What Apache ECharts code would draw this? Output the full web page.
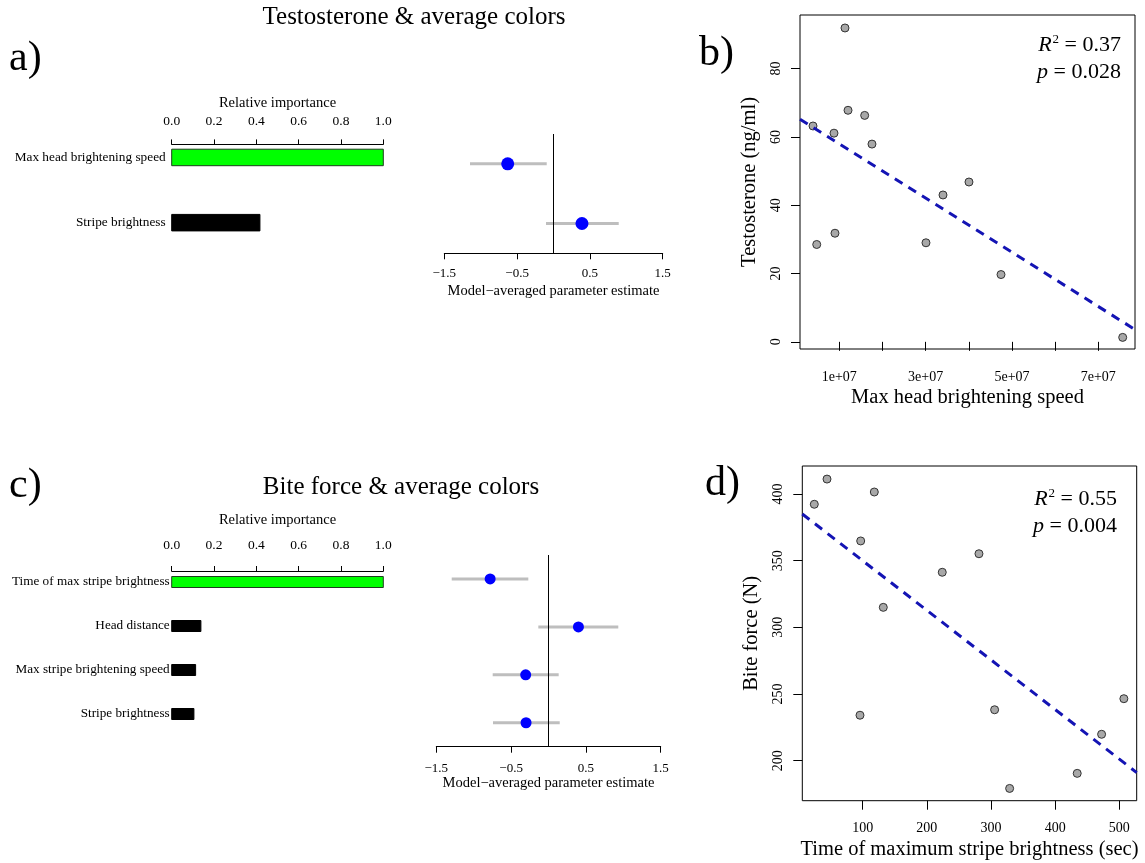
<!DOCTYPE html>
<html>
<head>
<meta charset="utf-8">
<script src="https://cdn.jsdelivr.net/npm/echarts@6/dist/echarts.min.js"></script>
<style>
html,body{margin:0;padding:0;background:#fff;}
#chart{width:1145px;height:863px;}
</style>
</head>
<body>
<div id="chart"></div>
<script>
// ---------- DATA ----------
// Panel a: relative importance + model-averaged estimates (rows listed bottom to top)
const aCategories = ['Stripe brightness', 'Max head brightening speed'];
const aImportance = [0.417, 1.0];
const aEstimate = [0.391, -0.629];
const aLower = [-0.103, -1.147];
const aUpper = [0.896, -0.093];

// Panel c (rows listed bottom to top)
const cCategories = ['Stripe brightness', 'Max stripe brightening speed', 'Head distance', 'Time of max stripe brightness'];
const cImportance = [0.105, 0.113, 0.138, 1.0];
const cEstimate = [-0.300, -0.305, 0.400, -0.780];
const cLower = [-0.742, -0.746, -0.136, -1.294];
const cUpper = [0.150, 0.136, 0.933, -0.270];

// Panel b: testosterone vs max head brightening speed
const bSpeed = [3.91e6, 4.77e6, 8.77e6, 9.00e6, 1.132e7, 1.202e7, 1.588e7, 1.757e7, 3.008e7, 3.402e7, 4.004e7, 4.746e7, 7.565e7];
const bTestosterone = [63.2, 28.5, 61.1, 31.8, 91.9, 67.8, 66.3, 57.9, 29.0, 43.0, 46.8, 19.7, 1.3];
const bFitLine = [[896000, 65.2], [78500000, 3.6]];

// Panel d: bite force vs time of maximum stripe brightness
const dTime = [24.6, 44.4, 96.9, 95.8, 118.1, 132.1, 224.0, 281.2, 305.6, 329.0, 434.3, 472.3, 507.0];
const dBite = [392.3, 411.2, 364.8, 234.1, 401.5, 315.0, 341.3, 355.2, 238.2, 179.2, 190.5, 219.8, 246.5];
const dFitLine = [[5.9, 385.0], [527, 191.1]];

// Tick values and labels
const impTicks = [0, 0.2, 0.4, 0.6, 0.8, 1.0];
const impTickLabels = ['0.0', '0.2', '0.4', '0.6', '0.8', '1.0'];
const estTicks = [-1.5, -0.5, 0.5, 1.5];
const estTickLabels = ['\u22121.5', '\u22120.5', '0.5', '1.5'];
const bXTicks = [1e7, 2e7, 3e7, 4e7, 5e7, 6e7, 7e7];
const bXLabelValues = [1e7, 3e7, 5e7, 7e7];
const bXTickLabels = ['1e+07', '3e+07', '5e+07', '7e+07'];
const bYTicks = [0, 20, 40, 60, 80];
const bYTickLabels = ['0', '20', '40', '60', '80'];
const dXTicks = [100, 200, 300, 400, 500];
const dXTickLabels = ['100', '200', '300', '400', '500'];
const dYTicks = [200, 250, 300, 350, 400];
const dYTickLabels = ['200', '250', '300', '350', '400'];

// ---------- STYLE / LAYOUT ----------
const FONT = '"Liberation Serif", "Times New Roman", serif';
const BLACK = '#000';

function lookup(vals, labels) {
  return function (v) {
    for (let i = 0; i < vals.length; i++) if (Math.abs(vals[i] - v) < 1e-6 * Math.max(1, Math.abs(v))) return labels[i];
    return '';
  };
}

function grid(left, top, width, height, box) {
  return { left, top, width, height, containLabel: false, outerBoundsMode: 'none',
    show: !!box, borderColor: BLACK, borderWidth: 1, backgroundColor: 'transparent' };
}

function impAxis(gi, nameGap, margin) {
  return {
    type: 'value', gridIndex: gi, position: 'top', min: 0, max: 1,
    name: 'Relative importance', nameLocation: 'middle', nameGap, nameMoveOverlap: false,
    nameTextStyle: { fontFamily: FONT, fontSize: 14.5, color: BLACK },
    axisLine: { show: true, lineStyle: { color: BLACK, width: 1 } },
    axisTick: { show: true, inside: false, length: 5, customValues: impTicks, lineStyle: { color: BLACK, width: 1 } },
    axisLabel: { show: true, customValues: impTicks, formatter: lookup(impTicks, impTickLabels), margin,
      fontFamily: FONT, fontSize: 13.5, color: BLACK },
    splitLine: { show: false }
  };
}

function estAxis(gi, nameGap, margin) {
  return {
    type: 'value', gridIndex: gi, position: 'bottom', min: -1.5, max: 1.5,
    name: 'Model\u2212averaged parameter estimate', nameLocation: 'middle', nameGap, nameMoveOverlap: false,
    nameTextStyle: { fontFamily: FONT, fontSize: 14.5, color: BLACK },
    axisLine: { show: true, lineStyle: { color: BLACK, width: 1 } },
    axisTick: { show: true, inside: false, length: 6, customValues: estTicks, lineStyle: { color: BLACK, width: 1 } },
    axisLabel: { show: true, customValues: estTicks, formatter: lookup(estTicks, estTickLabels), margin,
      fontFamily: FONT, fontSize: 13, color: BLACK },
    splitLine: { show: false }
  };
}

function hiddenY(gi, min, max) {
  return { type: 'value', gridIndex: gi, min, max, show: false, splitLine: { show: false } };
}

function scatterX(gi, min, max, ticks, labelVals, labels, name) {
  return {
    type: 'value', gridIndex: gi, min, max,
    name, nameLocation: 'middle', nameGap: 38, nameMoveOverlap: false,
    nameTextStyle: { fontFamily: FONT, fontSize: 20.5, color: BLACK },
    axisLine: { show: false },
    axisTick: { show: true, inside: false, length: 9, customValues: ticks, lineStyle: { color: BLACK, width: 1 } },
    axisLabel: { show: true, customValues: labelVals, formatter: lookup(labelVals, labels), margin: 21,
      fontFamily: FONT, fontSize: 14, color: BLACK },
    splitLine: { show: false }
  };
}

function scatterY(gi, min, max, ticks, labels, name) {
  return {
    type: 'value', gridIndex: gi, min, max,
    name, nameLocation: 'middle', nameGap: 40, nameRotate: 90, nameMoveOverlap: false,
    nameTextStyle: { fontFamily: FONT, fontSize: 20.5, color: BLACK },
    axisLine: { show: false },
    axisTick: { show: true, inside: false, length: 9, customValues: ticks, lineStyle: { color: BLACK, width: 1 } },
    axisLabel: { show: true, customValues: ticks, formatter: lookup(ticks, labels), margin: 17, rotate: 90,
      fontFamily: FONT, fontSize: 14, color: BLACK },
    splitLine: { show: false }
  };
}

function barSeries(axisIdx, cats, imp, barH, gap, fontSize) {
  return {
    type: 'custom', xAxisIndex: axisIdx, yAxisIndex: axisIdx, clip: false, silent: true,
    encode: { x: 0, y: 1 },
    data: imp.map((v, i) => [v, i + 1]),
    renderItem: function (params, api) {
      const v = api.value(0), row = api.value(1);
      const p0 = api.coord([0, row]);
      const p1 = api.coord([v, row]);
      const top = v >= 0.999;
      return {
        type: 'group',
        children: [
          { type: 'rect', shape: { x: p0[0], y: p0[1] - barH / 2, width: p1[0] - p0[0], height: barH },
            style: { fill: top ? '#00ff00' : '#000000', stroke: top ? '#1e3d1e' : '#000', lineWidth: 1 } },
          { type: 'text', x: p0[0] - gap, y: p0[1],
            style: { text: cats[params.dataIndex], align: 'right', verticalAlign: 'middle',
              fontFamily: FONT, fontSize, fill: BLACK } }
        ]
      };
    }
  };
}

function ciSeries(axisIdx, lo, hi) {
  return {
    type: 'custom', xAxisIndex: axisIdx, yAxisIndex: axisIdx, clip: false, silent: true,
    encode: { x: [0, 1], y: 2 },
    data: lo.map((l, i) => [l, hi[i], i + 1]),
    renderItem: function (params, api) {
      const a = api.coord([api.value(0), api.value(2)]);
      const b = api.coord([api.value(1), api.value(2)]);
      return { type: 'line', shape: { x1: a[0], y1: a[1], x2: b[0], y2: b[1] },
        style: { stroke: '#bebebe', lineWidth: 3 } };
    }
  };
}

function estSeries(axisIdx, est, size) {
  return {
    type: 'scatter', xAxisIndex: axisIdx, yAxisIndex: axisIdx, silent: true, z: 3,
    symbol: 'circle', symbolSize: size,
    itemStyle: { color: '#0000ff', borderWidth: 0, opacity: 1 },
    data: est.map((v, i) => [v, i + 1]),
    markLine: { silent: true, symbol: ['none', 'none'], label: { show: false },
      lineStyle: { color: BLACK, width: 1, type: 'solid' }, data: [{ xAxis: 0 }], animation: false }
  };
}

function pointSeries(axisIdx, xs, ys) {
  return {
    type: 'scatter', xAxisIndex: axisIdx, yAxisIndex: axisIdx, silent: true, z: 2,
    symbol: 'circle', symbolSize: 8,
    itemStyle: { color: '#a8a8a8', borderColor: '#333', borderWidth: 1, opacity: 1 },
    data: xs.map((x, i) => [x, ys[i]])
  };
}

function fitSeries(axisIdx, pts) {
  return {
    type: 'line', xAxisIndex: axisIdx, yAxisIndex: axisIdx, silent: true, z: 3,
    showSymbol: false, symbol: 'none', clip: true,
    lineStyle: { color: '#1414b4', width: 3, type: [9, 7] },
    data: pts
  };
}

function txt(x, y, text, size, opts) {
  return Object.assign({ type: 'text', x, y, silent: true,
    style: Object.assign({ text, fontFamily: FONT, fontSize: size, fill: BLACK, align: 'left', verticalAlign: 'middle' },
      opts || {}) });
}

function statText(x, y, letter, value) {
  return {
    type: 'text', x, y, silent: true,
    style: {
      text: '{i|' + letter + '}' + (letter === 'R' ? '{s|2}' : '') + '{n| = ' + value + '}',
      align: 'right', verticalAlign: 'middle', fill: BLACK,
      rich: {
        i: { fontFamily: FONT, fontSize: 22, fontStyle: 'italic', lineHeight: 24, fill: BLACK },
        s: { fontFamily: FONT, fontSize: 13, lineHeight: 24, verticalAlign: 'top', fill: BLACK, padding: [0, 0, 0, 1] },
        n: { fontFamily: FONT, fontSize: 22, lineHeight: 24, fill: BLACK }
      }
    }
  };
}

const option = {
  backgroundColor: '#ffffff',
  animation: false,
  grid: [
    grid(171.7, 144.4, 211.6, 91.3, false),   // a bars
    grid(444.3, 134, 218.4, 119.3, false),    // a forest
    grid(800, 15, 335, 334, true),            // b scatter
    grid(171.7, 571, 211.6, 156.2, false),    // c bars
    grid(436.3, 555, 224.4, 191.7, false),    // c forest
    grid(802.3, 466, 334.4, 334.7, true)      // d scatter
  ],
  xAxis: [
    impAxis(0, 34, 16),
    estAxis(1, 30, 14),
    scatterX(2, 896000, 78500000, bXTicks, bXLabelValues, bXTickLabels, 'Max head brightening speed'),
    impAxis(3, 43, 19),
    estAxis(4, 29, 15),
    scatterX(5, 5.9, 527, dXTicks, dXTicks, dXTickLabels, 'Time of maximum stripe brightness (sec)')
  ],
  yAxis: [
    hiddenY(0, 0.8, 2.2),
    hiddenY(1, 0.5, 2.5),
    scatterY(2, -2.1, 95.7, bYTicks, bYTickLabels, 'Testosterone (ng/ml)'),
    hiddenY(3, 0.7, 4.25),
    hiddenY(4, 0.5, 4.5),
    scatterY(5, 170, 421, dYTicks, dYTickLabels, 'Bite force (N)')
  ],
  series: [
    barSeries(0, aCategories, aImportance, 16.5, 6, 13.3),
    ciSeries(1, aLower, aUpper),
    estSeries(1, aEstimate, 13),
    pointSeries(2, bSpeed, bTestosterone),
    fitSeries(2, bFitLine),
    barSeries(3, cCategories, cImportance, 11, 2, 13.2),
    ciSeries(4, cLower, cUpper),
    estSeries(4, cEstimate, 11),
    pointSeries(5, dTime, dBite),
    fitSeries(5, dFitLine)
  ],
  graphic: {
    elements: [
      txt(414, 17, 'Testosterone & average colors', 25, { align: 'center' }),
      txt(401, 487, 'Bite force & average colors', 25, { align: 'center' }),
      txt(9, 59, 'a)', 42),
      txt(699, 54, 'b)', 42),
      txt(9, 486, 'c)', 42),
      txt(705, 484, 'd)', 42),
      statText(1121, 45, 'R', '0.37'),
      statText(1121, 72, 'p', '0.028'),
      statText(1117, 499, 'R', '0.55'),
      statText(1117, 526, 'p', '0.004')
    ]
  }
};

const chart = echarts.init(document.getElementById('chart'), null, { renderer: 'canvas' });
chart.setOption(option);
</script>
</body>
</html>
